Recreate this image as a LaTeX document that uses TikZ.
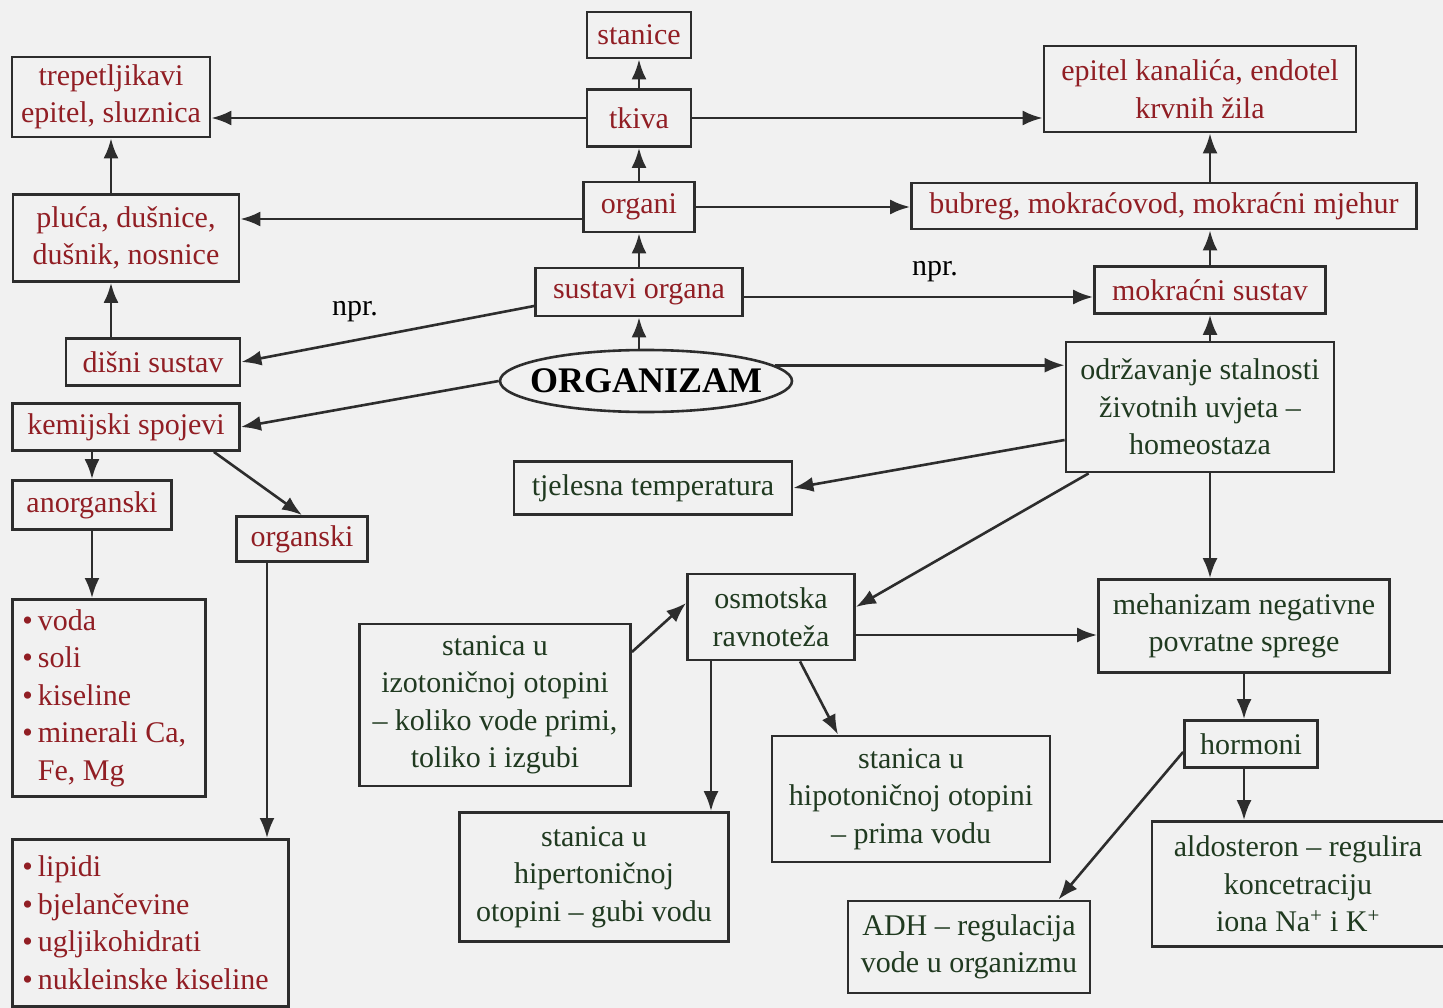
\documentclass[tikz,border=0pt]{standalone}
\usepackage{fontspec}
\setmainfont{Liberation Serif}
\usetikzlibrary{arrows.meta,shapes.geometric}
\definecolor{txtred}{RGB}{145,30,36}
\definecolor{txtgreen}{RGB}{32,58,32}
\definecolor{edge}{RGB}{45,45,45}
\definecolor{paper}{RGB}{241,241,241}
\begin{document}
\begin{tikzpicture}[x=1pt,y=-1pt,
  base/.style={draw=edge, line width=2.8pt, inner sep=0pt, align=center,
    font=\fontsize{30}{37.5}\selectfont},
  rbox/.style={base, text=txtred},
  gbox/.style={base, text=txtgreen},
  lbox/.style={base, text=txtred, align=flush left, inner xsep=10pt, anchor=north west},
  arr/.style={draw=edge, line width=2.6pt, -{Latex[length=20pt,width=15pt]}},
  lbl/.style={font=\fontsize{30}{36}\selectfont, text=black, inner sep=0pt}]
% page
\fill[paper] (0,0) rectangle (1443,1008);
\useasboundingbox (0,0) rectangle (1443,1008);

% central column
\node[rbox, minimum width=104pt, minimum height=46pt] (stanice) at (639,35) {stanice};
\node[rbox, minimum width=104pt, minimum height=57pt] (tkiva) at (639,118) {tkiva};
\node[rbox, minimum width=111pt, minimum height=50pt] (organi) at (639,207) {organi};
\node[rbox, minimum width=207pt, minimum height=48pt] (sustavi) at (639,292) {sustavi organa};
\node[ellipse, draw=edge, line width=2.6pt, inner sep=0pt, minimum width=292pt,
  minimum height=62pt, font=\bfseries\fontsize{36}{40}\selectfont] (org) at (646,381)
  {\makebox[0pt]{ORGANIZAM}};

% left branch
\node[rbox, minimum width=198pt, minimum height=80pt] (trep) at (111,97) {trepetljikavi\\epitel, sluznica};
\node[rbox, minimum width=226pt, minimum height=87pt] (pluca) at (126,238) {pluća, dušnice,\\dušnik, nosnice};
\node[rbox, minimum width=174pt, minimum height=47pt] (disni) at (153,362) {dišni sustav};
\node[rbox, minimum width=227pt, minimum height=47pt] (kem) at (126,427) {kemijski spojevi};
\node[rbox, minimum width=159pt, minimum height=49pt] (anorg) at (92,505) {anorganski};
\node[rbox, minimum width=131pt, minimum height=45pt] (organski) at (302,539) {organski};
\node[lbox, text width=173pt, minimum height=197pt] (voda) at (11,598)
  {•\,voda\\•\,soli\\•\,kiseline\\•\,minerali Ca,\\\phantom{•\,}Fe, Mg};
\node[lbox, text width=256pt, minimum height=167pt] (lip) at (11,838)
  {•\,lipidi\\•\,bjelančevine\\•\,ugljikohidrati\\•\,nukleinske kiseline};

% right branch
\node[rbox, minimum width=312pt, minimum height=86pt] (epitel) at (1200,89) {epitel kanalića, endotel\\krvnih žila};
\node[rbox, minimum width=505pt, minimum height=46pt] (bubreg) at (1164,206) {bubreg, mokraćovod, mokraćni mjehur};
\node[rbox, minimum width=231pt, minimum height=47pt] (mok) at (1210,290) {mokraćni sustav};

% homeostasis branch
\node[gbox, minimum width=268pt, minimum height=130pt] (hom) at (1200,407) {održavanje stalnosti\\životnih uvjeta –\\homeostaza};
\node[gbox, minimum width=278pt, minimum height=53pt] (tjel) at (653,488) {tjelesna temperatura};
\node[gbox, minimum width=167pt, minimum height=86pt] (osm) at (771,617) {osmotska\\ravnoteža};
\node[gbox, minimum width=291pt, minimum height=93pt] (meh) at (1244,626) {mehanizam negativne\\povratne sprege};
\node[gbox, minimum width=271pt, minimum height=162pt] (izo) at (495,705) {stanica u\\izotoničnoj otopini\\– koliko vode primi,\\toliko i izgubi};
\node[gbox, minimum width=269pt, minimum height=129pt] (hiper) at (594,877) {stanica u\\hipertoničnoj\\otopini – gubi vodu};
\node[gbox, minimum width=278pt, minimum height=126pt] (hipo) at (911,799) {stanica u\\hipotoničnoj otopini\\– prima vodu};
\node[gbox, minimum width=133pt, minimum height=47pt] (hor) at (1251,744) {hormoni};
\node[gbox, minimum width=292pt, minimum height=125pt] (aldo) at (1298,884) {aldosteron – regulira\\koncetraciju\\iona Na\textsuperscript{+} i K\textsuperscript{+}};
\node[gbox, minimum width=242pt, minimum height=92pt] (adh) at (969,947) {ADH – regulacija\\vode u organizmu};

% labels on the two "for example" links
\node[lbl] (npr1) at (355,312) {npr.};
\node[lbl] (npr2) at (935,272) {npr.};

% central column arrows
\draw[arr] (tkiva) -- (stanice);
\draw[arr] (organi) -- (tkiva);
\draw[arr] (sustavi) -- (organi);
\draw[arr] (sustavi.south |- org.north) -- (sustavi.south);

% left branch arrows
\draw[arr] (tkiva.west) -- (tkiva.west -| trep.east);
\coordinate (o1) at ([yshift=-12pt]organi.west);
\draw[arr] (o1) -- (o1 -| pluca.east);
\draw[arr] (pluca.north -| trep) -- (trep.south);
\draw[arr] (disni.north -| trep) -- (pluca.south -| trep);
\draw[arr] ([yshift=-14pt]sustavi.west) -- (disni.east);
\draw[arr] (org.west) -- (kem.east);
\draw[arr] (kem.south -| anorg) -- (anorg.north);
\draw[arr] ([xshift=-27pt]kem.south east) -- (organski.north);
\draw[arr] (anorg) -- (anorg |- voda.north);
\coordinate (o2) at ([xshift=-35pt]organski.south);
\draw[arr] (o2) -- (o2 |- lip.north);

% right branch arrows
\draw[arr] (tkiva.east) -- (tkiva.east -| epitel.west);
\draw[arr] (organi.east) -- (organi.east -| bubreg.west);
\coordinate (s1) at ([yshift=-5pt]sustavi.east);
\draw[arr] (s1) -- (s1 -| mok.west);
\draw[arr] (mok.north) -- (mok.north |- bubreg.south);
\draw[arr] (bubreg.north -| mok) -- (epitel.south -| mok);

% homeostasis arrows
\draw[arr] (org.7) -- (org.7 -| hom.west);
\draw[arr] (hom.north -| mok) -- (mok.south);
\draw[arr] ([yshift=-33pt]hom.west) -- (tjel.east);
\draw[arr] ([xshift=24pt]hom.south west) -- ([yshift=10pt]osm.east);
\draw[arr] (hom.south -| mok) -- (meh.north -| mok);
\coordinate (m1) at ([yshift=-18pt]osm.east);
\draw[arr] (m1) -- (m1 -| meh.west);
\draw[arr] (meh.south) -- (meh.south |- hor.north);
\draw[arr] (meh.south |- hor.south) -- (meh.south |- aldo.north);
\draw[arr] ([yshift=-8pt]hor.west) -- ([xshift=-33pt]adh.north east);
\draw[arr] ([yshift=53pt]izo.east) -- ([yshift=14pt]osm.west);
\coordinate (m2) at ([xshift=-60pt]osm.south);
\draw[arr] (m2) -- (m2 |- hiper.north);
\draw[arr] ([xshift=29pt]osm.south) -- ([xshift=-73pt]hipo.north);
\end{tikzpicture}
\end{document}
